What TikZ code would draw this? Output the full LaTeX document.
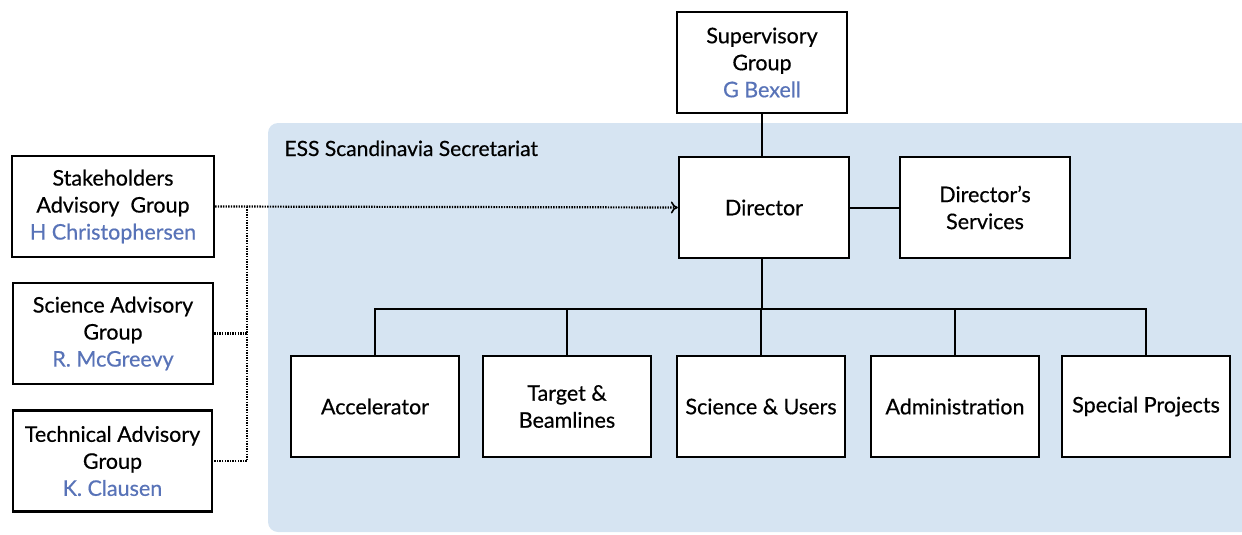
\documentclass[tikz,border=0pt]{standalone}
\usepackage{fontspec}
\setmainfont{Lato}[FakeBold=0.5]
\usetikzlibrary{arrows.meta}
\definecolor{bgblue}{HTML}{D6E4F2}
\definecolor{namecol}{HTML}{5873B8}
\begin{document}
\begin{tikzpicture}[x=1pt,y=-1pt,
  box/.style={draw=black,line width=2.3pt,fill=white,align=center,inner sep=0pt,
    font=\fontsize{21.5}{27}\selectfont},
  wbox/.style={box,minimum width=170pt,minimum height=101pt},
  bbox/.style={box,minimum width=168pt,minimum height=101pt},
  lbox/.style={box,minimum width=200pt,minimum height=101pt},
  conn/.style={line width=2pt},
  dconn/.style={line width=2.2pt,dash pattern=on 1.4pt off 1.2pt},
  nm/.style={text=namecol}]
\useasboundingbox (0,0) rectangle (1242,535);
\fill[bgblue,rounded corners=10pt] (268,123) rectangle (1262,532);
\node[anchor=base west,font=\fontsize{21}{24}\selectfont] (title) at (281,156) {ESS Scandinavia Secretariat};

\node[wbox] (sup) at (762,62.5) {Supervisory\\Group\\\textcolor{namecol}{G Bexell}};
\node[wbox] (dir) at (764,207.5) {Director};
\node[wbox] (serv) at (985,207.5) {Director’s\\Services};

\node[bbox] (acc) at (375,406.5) {Accelerator};
\node[bbox] (tgt) at (567,406.5) {Target \&\\Beamlines};
\node[bbox] (sci) at (761,406.5) {Science \& Users};
\node[bbox] (adm) at (955,406.5) {Administration};
\node[bbox] (spe) at (1146,406.5) {Special Projects};

\node[lbox,minimum width=202pt] (stk) at (113,206.5) {Stakeholders\\Advisory~~Group\\\textcolor{namecol}{H Christophersen}};
\node[lbox] (sag) at (113,333.5) {Science Advisory\\Group\\\textcolor{namecol}{R. McGreevy}};
\node[lbox,minimum width=199pt] (tag) at (112.5,461) {Technical Advisory\\Group\\\textcolor{namecol}{K. Clausen}};

\coordinate (bar) at (762,309);
\draw[conn] (sup.south -| bar) -- (dir.north -| bar);
\draw[conn] (dir) -- (serv);
\draw[conn] (dir.south -| bar) -- (bar);
\draw[conn] (acc.north) -- (acc.north |- bar) -- (spe.north |- bar) -- (spe.north);
\foreach \n in {tgt,sci,adm}{\draw[conn] (\n.north) -- (\n.north |- bar);}

\coordinate (vd) at (247,206.5);
\draw[dconn,-{To[length=7pt,width=12pt,line width=1.6pt]}] (stk.east) -- (dir.west);
\draw[dconn] (vd) -- (vd |- tag.east) -- (tag.east);
\draw[dconn] (sag.east) -- (sag.east -| vd);
\end{tikzpicture}
\end{document}
